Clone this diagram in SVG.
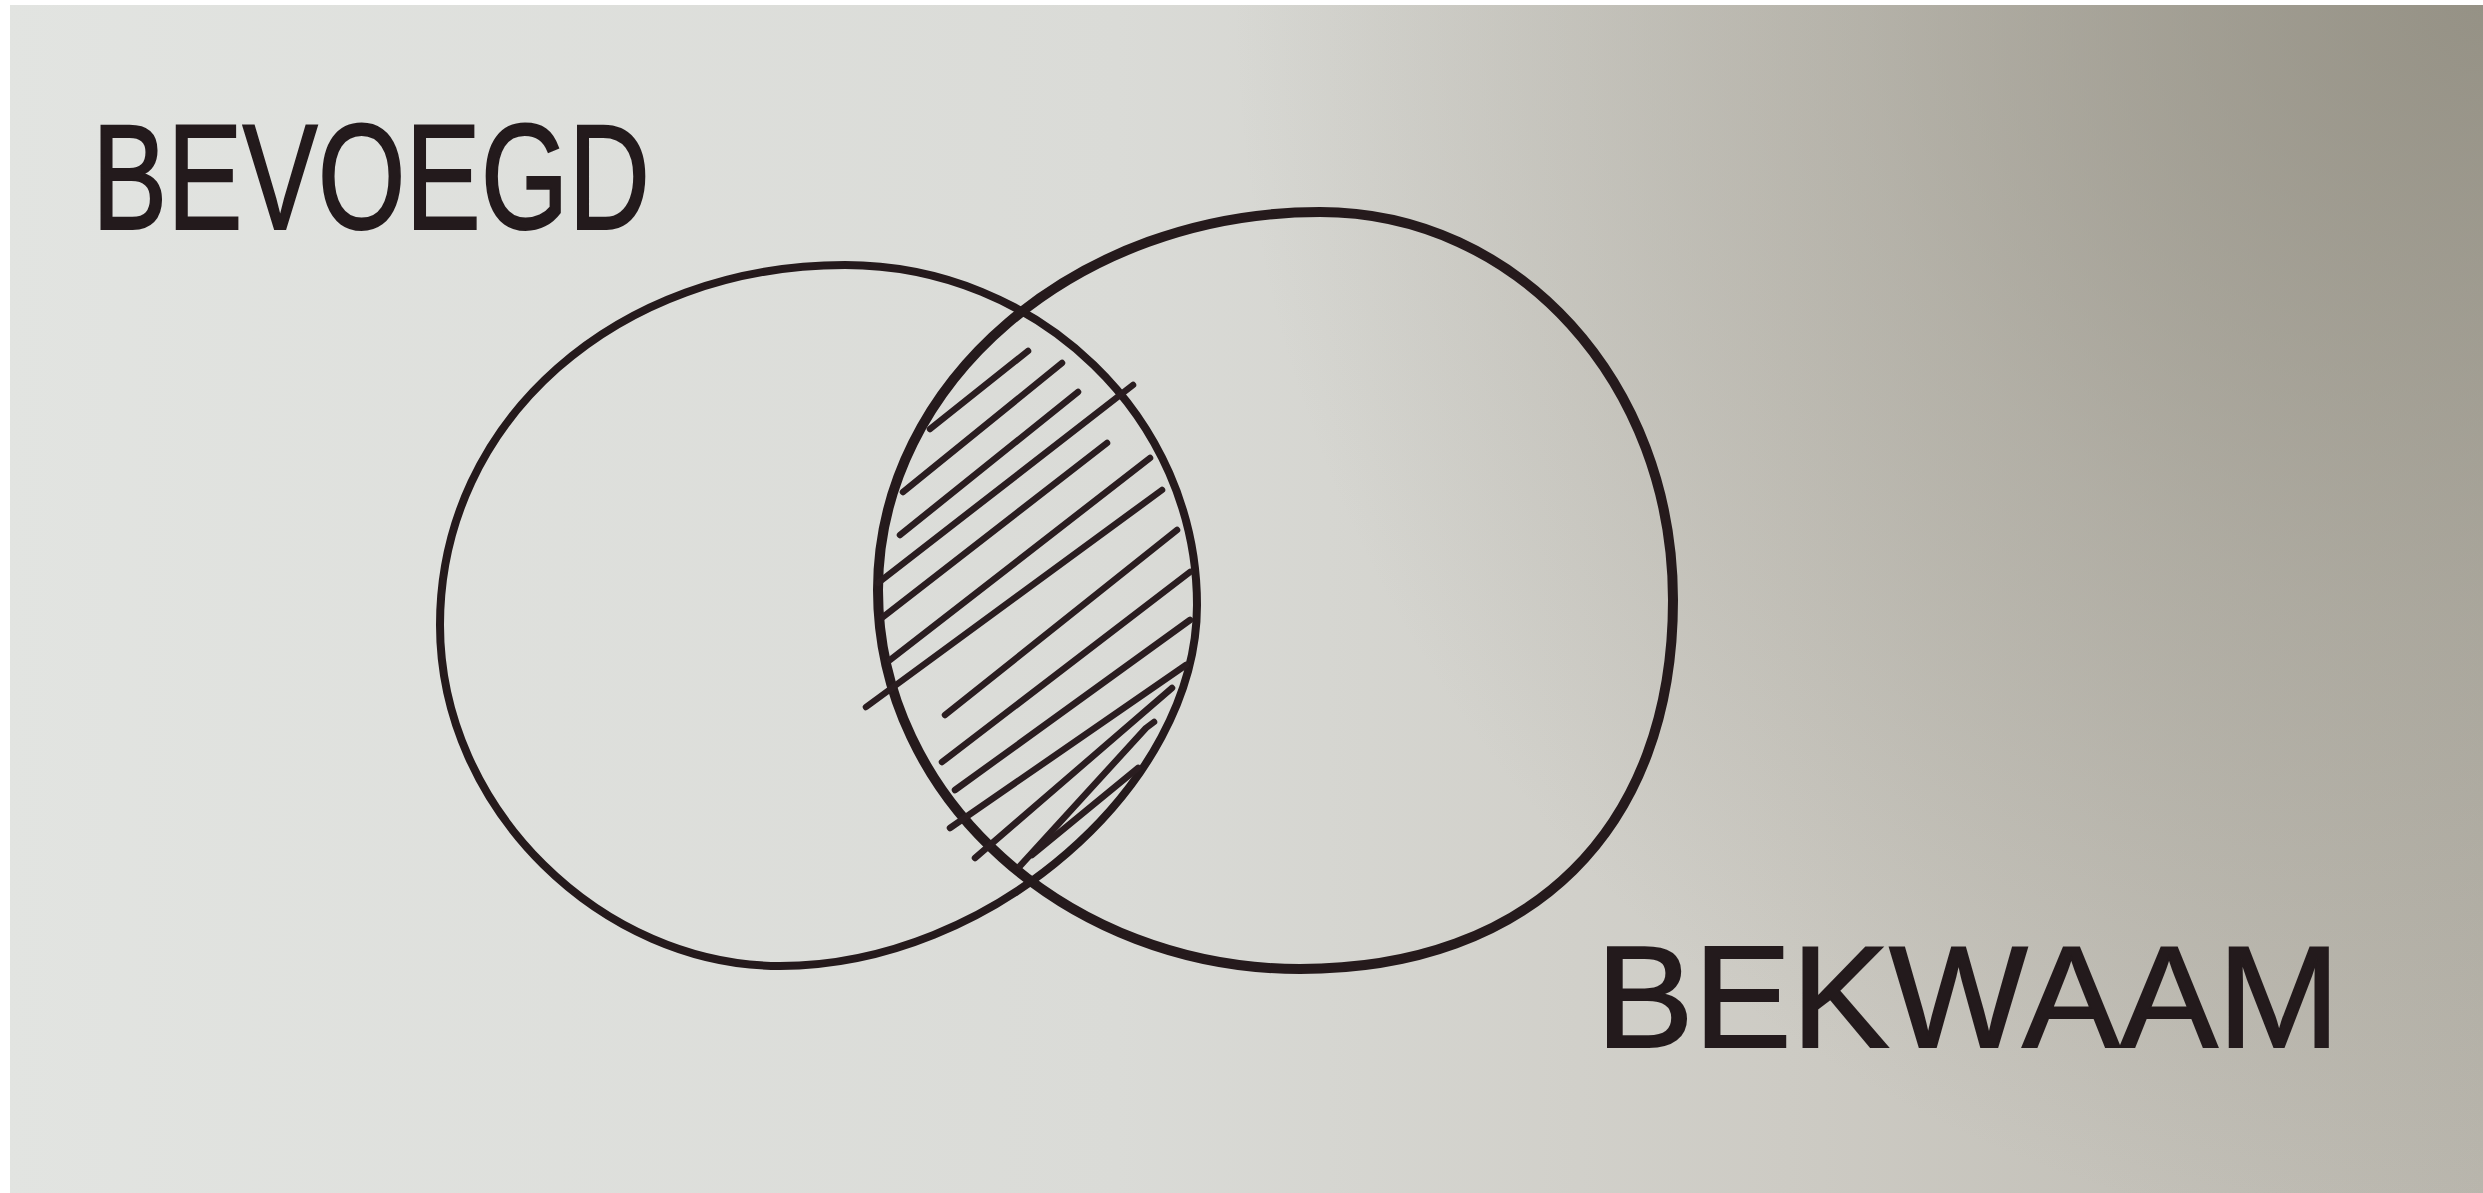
<svg xmlns="http://www.w3.org/2000/svg" width="2483" height="1193" viewBox="0 0 2483 1193">
  <defs>
    <linearGradient id="paper" gradientUnits="userSpaceOnUse" x1="0" y1="0" x2="2483" y2="0">
      <stop offset="0" stop-color="#e2e4e1"/>
      <stop offset="0.45" stop-color="#dadbd7"/>
      <stop offset="0.72" stop-color="#cdcbc4"/>
      <stop offset="1" stop-color="#bab7ae"/>
    </linearGradient>
    <radialGradient id="shade" gradientUnits="userSpaceOnUse" cx="2483" cy="0" r="1250">
      <stop offset="0" stop-color="#8c887b" stop-opacity="0.8"/>
      <stop offset="0.5" stop-color="#8c887b" stop-opacity="0.35"/>
      <stop offset="1" stop-color="#8c887b" stop-opacity="0"/>
    </radialGradient>
    <style>
      .ink { fill: none; stroke: #251a1c; stroke-linecap: round; stroke-linejoin: round; }
      .hatch { fill: none; stroke: #2a1d20; stroke-width: 6.5; stroke-linecap: round; stroke-linejoin: round; }
      .label { font-family: "Liberation Sans", Arial, sans-serif; fill: #231a1c; stroke: #231a1c; stroke-width: 2; }
    </style>
  </defs>

  <rect x="0" y="0" width="2483" height="1193" fill="#ffffff"/>
  <rect x="10" y="5" width="2473" height="1188" fill="url(#paper)"/>
  <rect x="10" y="5" width="2473" height="1188" fill="url(#shade)"/>

  <g id="bevoegd">
    <path class="ink" stroke-width="8" d="M440,625 C440,420 618,265 845,265 C1038.6,265 1197,418 1197,605 C1197,785 990,966 780,966 C603,966 440,810 440,625 Z"/>
    <text class="label" x="92" y="229" font-size="150" textLength="558" lengthAdjust="spacingAndGlyphs">BEVOEGD</text>
  </g>

  <g id="bekwaam">
    <path class="ink" stroke-width="10" d="M878,590 C878,382 1077,212 1320,212 C1518,212 1673,383 1673,600 C1673,829 1531,969 1300,969 C1068,969 878,798 878,590 Z"/>
    <text class="label" x="1596" y="1047" font-size="145" textLength="744" lengthAdjust="spacingAndGlyphs">BEKWAAM</text>
  </g>

  <g id="intersection">
    <line class="hatch" x1="930" y1="429" x2="1028" y2="351"/>
    <line class="hatch" x1="903" y1="492" x2="1062" y2="363"/>
    <line class="hatch" x1="900" y1="535" x2="1078" y2="392"/>
    <line class="hatch" x1="878" y1="583" x2="1133" y2="385"/>
    <line class="hatch" x1="883" y1="617" x2="1107" y2="443"/>
    <line class="hatch" x1="890" y1="660" x2="1150" y2="458"/>
    <line class="hatch" x1="866" y1="707" x2="1162" y2="490"/>
    <line class="hatch" x1="945" y1="715" x2="1177" y2="530"/>
    <line class="hatch" x1="942" y1="762" x2="1190" y2="572"/>
    <line class="hatch" x1="955" y1="790" x2="1190" y2="620"/>
    <line class="hatch" x1="950" y1="828" x2="1186" y2="665"/>
    <line class="hatch" x1="975" y1="858" x2="1172" y2="688"/>
    <polyline class="hatch" points="1020,866 1146,728 1154,722"/>
    <line class="hatch" x1="1032" y1="855" x2="1138" y2="768"/>
  </g>

  <g id="connectors"/>
</svg>
